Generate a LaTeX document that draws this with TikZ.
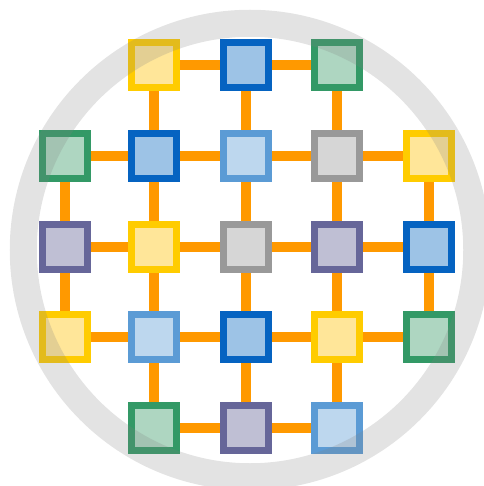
\documentclass[tikz,border=0pt]{standalone}
\definecolor{oedge}{HTML}{FF9900}
\definecolor{yB}{HTML}{FFCC00}\definecolor{yF}{HTML}{FFE699}
\definecolor{bB}{HTML}{0563C1}\definecolor{bF}{HTML}{9DC3E6}
\definecolor{gB}{HTML}{339966}\definecolor{gF}{HTML}{AED6C1}
\definecolor{lB}{HTML}{5B9BD5}\definecolor{lF}{HTML}{BDD7EE}
\definecolor{kB}{HTML}{999999}\definecolor{kF}{HTML}{D6D6D6}
\definecolor{pB}{HTML}{666699}\definecolor{pF}{HTML}{BFBFD4}
\definecolor{ringc}{HTML}{808080}
\tikzset{
  cell/.style={draw, line width=7pt, minimum size=45pt, inner sep=0pt, outer sep=0pt, rectangle},
  Y/.style={cell, draw=yB, fill=yF},
  B/.style={cell, draw=bB, fill=bF},
  G/.style={cell, draw=gB, fill=gF},
  L/.style={cell, draw=lB, fill=lF},
  K/.style={cell, draw=kB, fill=kF},
  P/.style={cell, draw=pB, fill=pF},
  link/.style={draw=oedge, line width=10pt},
  ring/.style={draw=ringc, draw opacity=0.22, line width=27pt}
}
\begin{document}
\begin{tikzpicture}[x=1pt,y=-1pt]
\useasboundingbox (0,0) rectangle (483,486);
\def\cA{65}\def\cB{154}\def\cC{245.5}\def\cD{337}\def\cE{429}
\def\rA{65.5}\def\rB{156.3}\def\rC{246.7}\def\rD{337.3}\def\rE{428}
% row 1
\node[Y] (n12) at (\cB,\rA) {};
\node[B] (n13) at (\cC,\rA) {};
\node[G] (n14) at (\cD,\rA) {};
% row 2
\node[G] (n21) at (\cA,\rB) {};
\node[B] (n22) at (\cB,\rB) {};
\node[L] (n23) at (\cC,\rB) {};
\node[K] (n24) at (\cD,\rB) {};
\node[Y] (n25) at (\cE,\rB) {};
% row 3
\node[P] (n31) at (\cA,\rC) {};
\node[Y] (n32) at (\cB,\rC) {};
\node[K] (n33) at (\cC,\rC) {};
\node[P] (n34) at (\cD,\rC) {};
\node[B] (n35) at (\cE,\rC) {};
% row 4
\node[Y] (n41) at (\cA,\rD) {};
\node[L] (n42) at (\cB,\rD) {};
\node[B] (n43) at (\cC,\rD) {};
\node[Y] (n44) at (\cD,\rD) {};
\node[G] (n45) at (\cE,\rD) {};
% row 5
\node[G] (n52) at (\cB,\rE) {};
\node[P] (n53) at (\cC,\rE) {};
\node[L] (n54) at (\cD,\rE) {};
% links behind
\begin{scope}[on background layer/.style={}]
\end{scope}
\pgfdeclarelayer{bg}\pgfsetlayers{bg,main}
\begin{pgfonlayer}{bg}
\foreach \a/\b in {n12/n13,n13/n14,
  n21/n22,n22/n23,n23/n24,n24/n25,
  n31/n32,n32/n33,n33/n34,n34/n35,
  n41/n42,n42/n43,n43/n44,n44/n45,
  n52/n53,n53/n54,
  n21/n31,n31/n41,
  n12/n22,n22/n32,n32/n42,n42/n52,
  n13/n23,n23/n33,n33/n43,n43/n53,
  n14/n24,n24/n34,n34/n44,n44/n54,
  n25/n35,n35/n45}
  \draw[link] (\a.center) -- (\b.center);
\end{pgfonlayer}
% ring on top, semi-transparent
\node[circle, minimum size=453.5pt, inner sep=0pt, ring] (ring) at (250,250) {};
\end{tikzpicture}
\end{document}
